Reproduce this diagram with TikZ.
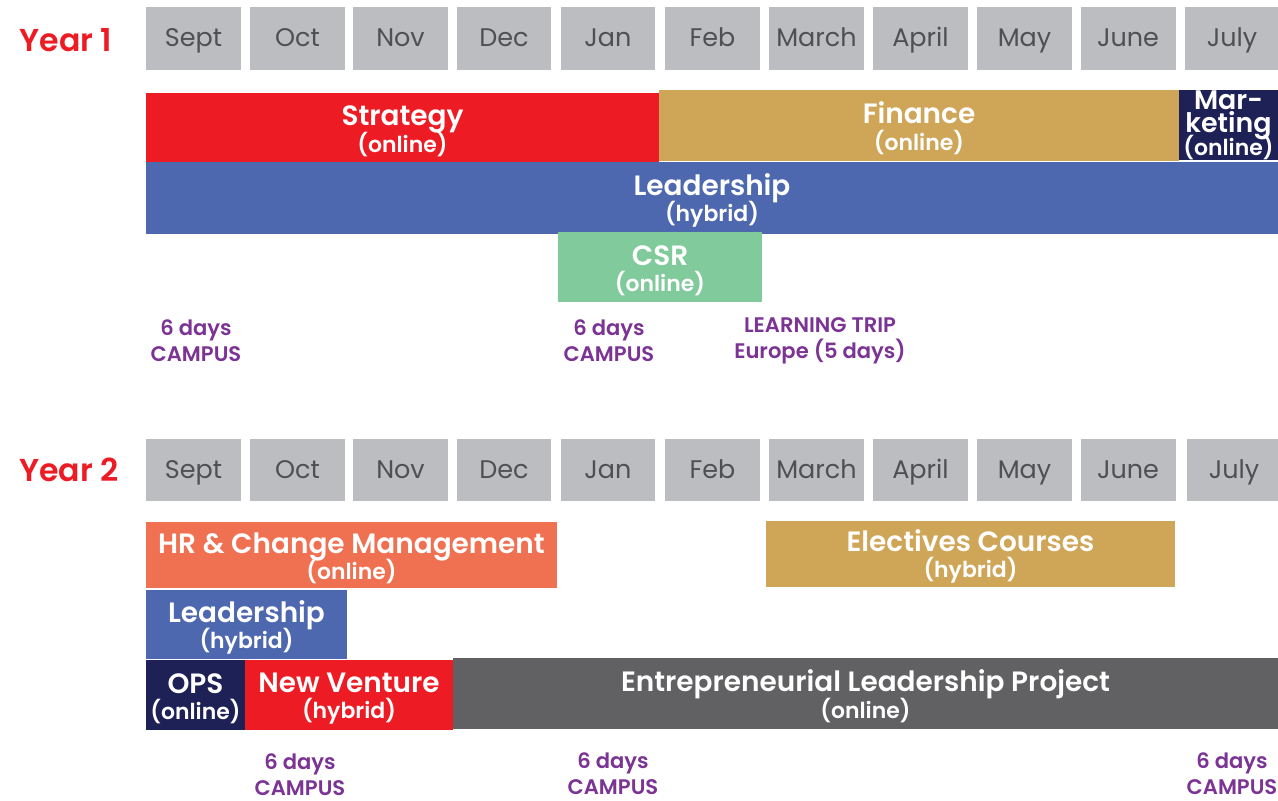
\documentclass[tikz,border=0pt]{standalone}
\usepackage{fontspec}
\setmainfont{Poppins}[BoldFont={Poppins SemiBold}]
\definecolor{monthgray}{HTML}{BCBDC0}
\definecolor{monthtext}{HTML}{505053}
\definecolor{yearred}{HTML}{ED1C24}
\definecolor{campuspurple}{HTML}{7B3394}
\definecolor{strategyred}{HTML}{ED1C24}
\definecolor{financegold}{HTML}{CFA557}
\definecolor{marketingnavy}{HTML}{1E2156}
\definecolor{leadershipblue}{HTML}{4D68AF}
\definecolor{csrgreen}{HTML}{80CA9C}
\definecolor{hrorange}{HTML}{F07052}
\definecolor{projectgray}{HTML}{616163}
\newcommand{\bartitle}[1]{{\fontsize{15.9}{17}\selectfont\rule{0pt}{15.5pt}#1}}
\newcommand{\barfont}{\fontsize{12.5}{15}\selectfont\bfseries\lineskiplimit=-20pt\relax}
\newcommand{\narrowtitle}{\fontsize{15.3}{17}\selectfont}
\begin{document}
\begin{tikzpicture}[x=0.02cm,y=-0.02cm,
  month/.style={rectangle,fill=monthgray,text=monthtext,minimum width=1.9cm,minimum height=1.26cm,inner sep=0pt,text height=12.6pt,text depth=3pt,font=\fontsize{14.5}{16}\selectfont},
  bar/.style={rectangle,text=white,inner sep=0pt,align=center,font=\barfont},
  campus/.style={text=campuspurple,align=center,font=\fontsize{12}{15}\selectfont\bfseries},
  year/.style={text=yearred,font=\fontsize{18}{20}\selectfont\bfseries}]
\useasboundingbox (0,0) rectangle (1278,801);

% year 1
\node[year] at (66,40) (y1) {Year 1};
\node[month] at (193.5,38.5) (y1sep) {Sept};
\node[month] at (297.5,38.5) (y1oct) {Oct};
\node[month] at (400.5,38.5) (y1nov) {Nov};
\node[month] at (504,38.5) (y1dec) {Dec};
\node[month] at (608,38.5) (y1jan) {Jan};
\node[month] at (712.5,38.5) (y1feb) {Feb};
\node[month] at (816.5,38.5) (y1mar) {March};
\node[month] at (920.5,38.5) (y1apr) {April};
\node[month] at (1024.5,38.5) (y1may) {May};
\node[month] at (1128,38.5) (y1jun) {June};
\node[month] at (1232,38.5) (y1jul) {July};

\node[bar,fill=strategyred,minimum width=10.26cm,minimum height=1.38cm] at (402.5,127.5) (strategy) {\bartitle{Strategy}\\(online)};
\node[bar,fill=financegold,minimum width=10.4cm,minimum height=1.42cm] at (919,125.5) (finance) {\bartitle{Finance}\\(online)};
\node[bar,fill=marketingnavy,minimum width=1.98cm,minimum height=1.4cm] at (1228.5,125) (marketing) {{\narrowtitle Mar-}\\[-2pt]{\narrowtitle keting}\\[-2pt](online)};
\node[bar,fill=leadershipblue,minimum width=22.64cm,minimum height=1.44cm] at (712,198) (lead1) {\bartitle{Leadership}\\(hybrid)};
\node[bar,fill=csrgreen,minimum width=4.08cm,minimum height=1.4cm] at (660,267) (csr) {\bartitle{CSR}\\(online)};

\node[campus] at (196,341) (c1a) {6 days\\CAMPUS};
\node[campus] at (609,341) (c1b) {6 days\\CAMPUS};
\node[campus] at (820,341) (trip) {LEARNING TRIP\\Europe (5 days)};

% year 2
\node[year] at (69,470) (y2) {Year 2};
\node[month] at (193.5,470) (y2sep) {Sept};
\node[month] at (297.5,470) (y2oct) {Oct};
\node[month] at (400.5,470) (y2nov) {Nov};
\node[month] at (504,470) (y2dec) {Dec};
\node[month] at (608,470) (y2jan) {Jan};
\node[month] at (712.5,470) (y2feb) {Feb};
\node[month] at (816.5,470) (y2mar) {March};
\node[month] at (920.5,470) (y2apr) {April};
\node[month] at (1024.5,470) (y2may) {May};
\node[month] at (1128,470) (y2jun) {June};
\node[month] at (1234,470) (y2jul) {July};

\node[bar,fill=hrorange,minimum width=8.22cm,minimum height=1.32cm] at (351.5,555) (hr) {\bartitle{HR \& Change Management}\\(online)};
\node[bar,fill=financegold,minimum width=8.18cm,minimum height=1.32cm] at (970.5,554) (electives) {\bartitle{Electives Courses}\\(hybrid)};
\node[bar,fill=leadershipblue,minimum width=4.02cm,minimum height=1.38cm] at (246.5,624.5) (lead2) {\bartitle{Leadership}\\(hybrid)};
\node[bar,fill=marketingnavy,minimum width=1.98cm,minimum height=1.4cm] at (195.5,695) (ops) {\bartitle{OPS}\\(online)};
\node[bar,fill=strategyred,minimum width=4.16cm,minimum height=1.4cm] at (349,695) (venture) {\bartitle{New Venture}\\(hybrid)};
\node[bar,fill=projectgray,minimum width=16.5cm,minimum height=1.42cm] at (865.5,693.5) (project) {\bartitle{Entrepreneurial Leadership Project}\\(online)};

\node[campus] at (300,775) (c2a) {6 days\\CAMPUS};
\node[campus] at (613,774) (c2b) {6 days\\CAMPUS};
\node[campus] at (1232,774) (c2c) {6 days\\CAMPUS};

\end{tikzpicture}
\end{document}
